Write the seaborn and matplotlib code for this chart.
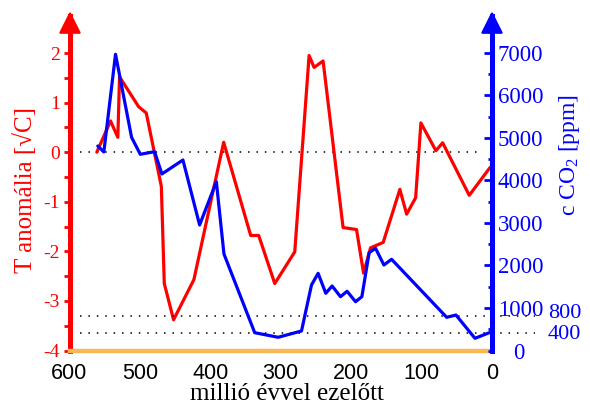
import numpy as np
import pandas as pd
import matplotlib
matplotlib.use("Agg")
import matplotlib.pyplot as plt
import matplotlib.transforms as mtransforms
from matplotlib.ticker import MultipleLocator
import seaborn as sns

# ---- data ----
age_temp = [561.2, 541.7, 531.3, 528.9, 501.9, 490.9, 469.5, 465.3, 452.1, 423.2,
            380.9, 342.5, 331.1, 308.3, 279.9, 259.5, 252.4, 239.6, 211.2, 192.1,
            182.1, 172.2, 154.2, 130.5, 120.9, 108.1, 100.6, 79.3, 69.7, 31.9, 2.4]
temp_anomaly = [0.00, 0.63, 0.30, 1.52, 0.92, 0.79, -0.69, -2.65, -3.38, -2.57,
                0.20, -1.68, -1.68, -2.65, -2.01, 1.95, 1.71, 1.84, -1.52, -1.56,
                -2.44, -1.93, -1.82, -0.75, -1.25, -0.92, 0.59, 0.03, 0.19, -0.87, -0.31]

age_co2 = [559.8, 551.2, 534.6, 511.8, 499.4, 479.1, 468.7, 438.8, 415.1, 391.3,
           380.5, 336.8, 303.6, 270.3, 256.1, 246.7, 235.8, 226.8, 214.9, 205.5,
           193.5, 184.5, 174.2, 165.1, 153.2, 142.3, 64.0, 50.8, 23.8, 3.4]
co2_ppm = [4812, 4671, 6969, 5016, 4616, 4678, 4153, 4482, 2953, 3972,
           2271, 419, 311, 459, 1541, 1816, 1346, 1518, 1266, 1393,
           1148, 1266, 2301, 2405, 2012, 2146, 781, 835, 287, 419]

x_ticks = [600, 500, 400, 300, 200, 100, 0]
temp_ticks = [-4, -3, -2, -1, 0, 1, 2]
co2_ticks = [1000, 2000, 3000, 4000, 5000, 6000, 7000]
co2_ref_levels = [800, 400]

RED = "#ff0000"
BLUE = "#0000ff"
ORANGE = "#f9b856"

sns.set_style("white")
plt.rcParams["font.family"] = ["Liberation Serif", "DejaVu Serif"]
plt.rcParams["mathtext.fontset"] = "custom"
plt.rcParams["mathtext.rm"] = "Liberation Serif"
plt.rcParams["mathtext.it"] = "Liberation Serif:italic"
plt.rcParams["axes.unicode_minus"] = False

W, H = 590, 407
fig = plt.figure(figsize=(W / 100, H / 100), dpi=100)
x0, x1 = 69.5, 491.7
y_bot, y_top = 350.5, 16.0
ax = fig.add_axes([x0 / W, 1 - y_bot / H, (x1 - x0) / W, (y_bot - y_top) / H])
ax2 = ax.twinx()

df_t = pd.DataFrame({"age": age_temp, "T": temp_anomaly})
df_c = pd.DataFrame({"age": age_co2, "co2": co2_ppm})

sns.lineplot(data=df_t, x="age", y="T", ax=ax, color=RED, lw=2.3,
             sort=False, estimator=None)
sns.lineplot(data=df_c, x="age", y="co2", ax=ax2, color=BLUE, lw=2.3,
             sort=False, estimator=None)

ax.set_xlim(600, 0)
ax.set_ylim(-4.0, 2.747)
ax2.set_ylim(0, 7870)

# ticks
ax.set_xticks(x_ticks)
ax.xaxis.set_minor_locator(MultipleLocator(50))
ax.set_yticks(temp_ticks)
ax.yaxis.set_minor_locator(MultipleLocator(0.5))
ax2.set_yticks(co2_ticks)
ax2.yaxis.set_minor_locator(MultipleLocator(500))

ax.tick_params(axis="x", which="major", direction="out", color=ORANGE, length=4,
               width=1.5, labelsize=15.5, labelcolor="black",
               labelfontfamily="Liberation Sans", pad=5)
ax.tick_params(axis="x", which="minor", direction="out", color=ORANGE, length=2,
               width=1.5)
ax.tick_params(axis="y", which="both", direction="out", color=RED, length=4,
               width=2, labelsize=14, labelcolor=RED, pad=3)
ax2.tick_params(axis="y", which="major", direction="in", color=BLUE, length=6,
                width=2, labelsize=16.5, labelcolor=BLUE, pad=4.5)
ax2.tick_params(axis="y", which="minor", direction="in", color=BLUE, length=3,
                width=2)

# spines
for s in ["top", "right"]:
    ax.spines[s].set_visible(False)
for s in ["top", "left", "bottom"]:
    ax2.spines[s].set_visible(False)
ax.spines["left"].set(color=RED, linewidth=3.6)
ax.spines["bottom"].set(color=ORANGE, linewidth=3.2)
ax2.spines["right"].set(color=BLUE, linewidth=3.6)

# arrow heads on the vertical axes
ax.plot([0], [0.979], marker="^", ms=14, mew=1.2, color=RED, mec=RED,
        transform=ax.transAxes, clip_on=False)
ax2.plot([1], [0.979], marker="^", ms=14, mew=1.2, color=BLUE, mec=BLUE,
         transform=ax2.transAxes, clip_on=False)

# dotted reference lines
dot = (0, (1, 4.5))
ax.axhline(0, xmin=0.025, xmax=0.98, color="black", lw=1.1, ls=dot, zorder=0.5)
trans2 = mtransforms.blended_transform_factory(ax2.transAxes, ax2.transData)
label_shift_px = {800: 3.0, 400: -1.5}
for lev in co2_ref_levels:
    ax2.axhline(lev, xmin=0.025, xmax=(535 - x0) / (x1 - x0), color="black",
                lw=1.1, ls=dot, clip_on=False, zorder=0.5)
    tr = mtransforms.offset_copy(trans2, fig=fig, x=0, y=label_shift_px[lev],
                                 units="dots")
    ax2.text((548 - x0) / (x1 - x0), lev, str(lev), transform=tr,
             ha="left", va="center", fontsize=16, color=BLUE, clip_on=False)
tr0 = mtransforms.offset_copy(trans2, fig=fig, x=0, y=-3, units="dots")
ax2.text((519 - x0) / (x1 - x0), 0, "0", transform=tr0, ha="center",
         va="center", fontsize=16.5, color=BLUE, clip_on=False)

# axis labels
ax.set_xlabel("millió évvel ezelőtt", fontsize=18, color="black")
ax.xaxis.set_label_coords(0.514, -0.097)

ax.set_ylabel("T anomália [√C]", fontsize=18, color=RED)
ax.yaxis.set_label_coords((24.8 - x0) / (x1 - x0), 0.48)
ax.yaxis.label.set(va="center", ha="center", rotation_mode="default")

ax2.set_ylabel("c CO$_2$ [ppm]", fontsize=17, color=BLUE)
ax2.yaxis.set_label_coords((570 - x0) / (x1 - x0), 0.5845)
ax2.yaxis.label.set(va="center", ha="center", rotation_mode="default", rotation=90)

fig.savefig("out.png", dpi=100)
